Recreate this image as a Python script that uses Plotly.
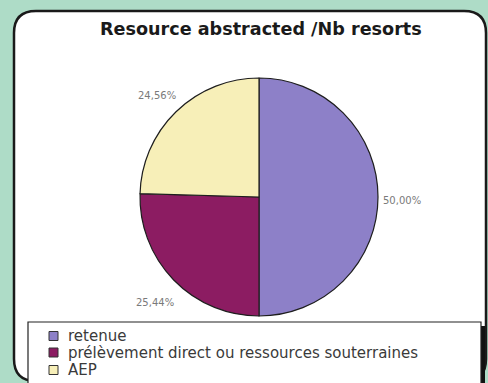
import plotly.graph_objects as go

# Data
categories = ["retenue", "prélèvement direct ou ressources souterraines", "AEP"]
values = [50.00, 25.44, 24.56]
colors = ["#8d80c8", "#8c1c62", "#f7efb8"]
title_text = "Resource abstracted /Nb resorts"

W, H = 488, 383


def px(x):
    return x / W


def py(y):
    return 1 - y / H


def rounded_rect(x0, y0, x1, y1, r):
    # SVG path in paper coordinates for a rounded rectangle given in pixels
    pts = [
        f"M {px(x0 + r)} {py(y0)}",
        f"L {px(x1 - r)} {py(y0)}",
        f"Q {px(x1)} {py(y0)} {px(x1)} {py(y0 + r)}",
        f"L {px(x1)} {py(y1 - r)}",
        f"Q {px(x1)} {py(y1)} {px(x1 - r)} {py(y1)}",
        f"L {px(x0 + r)} {py(y1)}",
        f"Q {px(x0)} {py(y1)} {px(x0)} {py(y1 - r)}",
        f"L {px(x0)} {py(y0 + r)}",
        f"Q {px(x0)} {py(y0)} {px(x0 + r)} {py(y0)}",
        "Z",
    ]
    return " ".join(pts)


cx, cy, R = 259, 197, 119

fig = go.Figure(
    go.Pie(
        labels=categories,
        values=values,
        sort=False,
        direction="clockwise",
        rotation=0,
        marker=dict(colors=colors, line=dict(color="#1e1e1e", width=1.2)),
        textinfo="none",
        hoverinfo="label+percent",
        showlegend=False,
        domain=dict(x=[px(cx - R), px(cx + R)], y=[py(cy + R), py(cy - R)]),
    )
)

FONT = "DejaVu Sans, Arial"

# percentage labels beside each slice
total = sum(values)
label_pos = [(402, 201), (155, 302), (157, 95)]
annotations = []
for v, (lx, ly) in zip(values, label_pos):
    annotations.append(
        dict(
            x=px(lx), y=py(ly), xref="paper", yref="paper",
            xanchor="center", yanchor="middle",
            text=f"{v / total * 100:.2f}".replace(".", ",") + "%",
            showarrow=False,
            font=dict(family=FONT, size=10, color="#7a7a7a"),
        )
    )
annotations.append(
    dict(
        x=px(261), y=py(29), xref="paper", yref="paper",
        xanchor="center", yanchor="middle",
        text=f"<b>{title_text}</b>", showarrow=False,
        font=dict(family=FONT, size=17.6, color="#1a1a1a"),
    )
)

shapes = [
    # white rounded panel
    dict(type="path", xref="paper", yref="paper",
         path=rounded_rect(14, 11, 486, 381, 22),
         fillcolor="white", line=dict(color="#1a1a1a", width=2.5), layer="below"),
]

# legend box with drop shadow
legend_shapes = [
    dict(type="rect", xref="paper", yref="paper",
         x0=px(31), x1=px(485), y0=py(395), y1=py(326),
         fillcolor="#111111", line=dict(width=0), layer="above"),
    dict(type="rect", xref="paper", yref="paper",
         x0=px(28), x1=px(481), y0=py(395), y1=py(322),
         fillcolor="white", line=dict(color="#222222", width=1.2), layer="above"),
]
row_y = [336, 352.5, 370]
for cat, col, yy in zip(categories, colors, row_y):
    legend_shapes.append(
        dict(type="rect", xref="paper", yref="paper",
             x0=px(49), x1=px(58), y0=py(yy + 4.5), y1=py(yy - 4.5),
             fillcolor=col, line=dict(color="#333333", width=1), layer="above")
    )
    annotations.append(
        dict(x=px(67), y=py(yy), xref="paper", yref="paper",
             xanchor="left", yanchor="middle", borderpad=0,
             text=cat, showarrow=False,
             font=dict(family=FONT, size=15, color="#3a3a3a"))
    )

fig.update_layout(
    width=W, height=H,
    margin=dict(l=0, r=0, t=0, b=0, autoexpand=False),
    paper_bgcolor="#aedcc7",
    plot_bgcolor="#aedcc7",
    shapes=shapes + legend_shapes,
    annotations=annotations,
    showlegend=False,
)

fig.write_html("out.html")
